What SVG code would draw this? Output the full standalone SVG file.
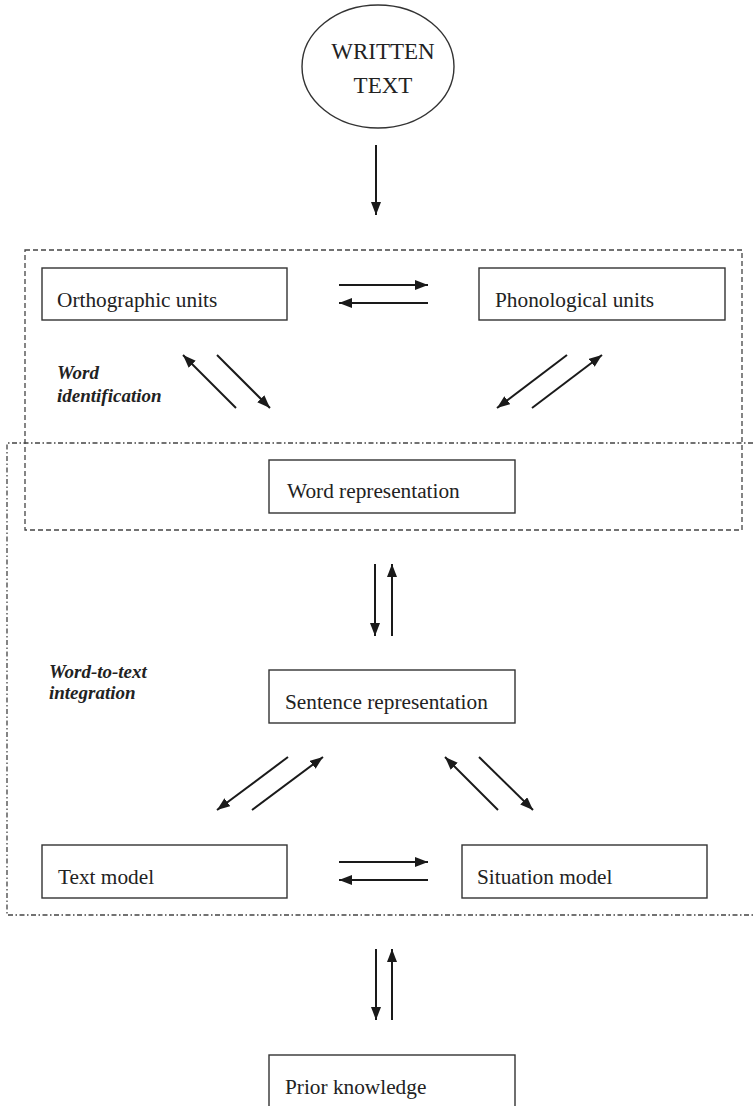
<svg xmlns="http://www.w3.org/2000/svg" width="753" height="1106" viewBox="0 0 753 1106">
  <style>
    .box { fill: #fff; stroke: #333; stroke-width: 1.4; }
    .lbl { font-family: "Liberation Serif", "Times New Roman", serif; font-size: 21.3px; fill: #222; }
    .big { font-family: "Liberation Serif", "Times New Roman", serif; font-size: 23px; fill: #222; text-anchor: middle; }
    .stage { font-family: "Liberation Serif", "Times New Roman", serif; font-size: 19px; font-weight: bold; font-style: italic; fill: #222; }
    .dash { fill: none; stroke: #444; stroke-width: 1.3; stroke-dasharray: 5 3; }
    .dashdot { fill: none; stroke: #444; stroke-width: 1.3; stroke-dasharray: 5 2.5 1.5 2.5; }
    .link { fill: none; stroke: #1a1a1a; stroke-width: 2; marker-end: url(#head); }
  </style>
  <defs>
    <marker id="head" viewBox="0 0 13 10" refX="13" refY="5" markerWidth="13" markerHeight="10" markerUnits="userSpaceOnUse" orient="auto">
      <path d="M0,0 L13,5 L0,10 Z" fill="#1a1a1a"/>
    </marker>
  </defs>

  <!-- stage frames -->
  <g id="frames">
    <rect id="frame-word-identification" class="dash" x="25" y="250" width="717" height="280"/>
    <path id="frame-word-to-text" class="dashdot" d="M753,443 H7 V915 H753"/>
  </g>

  <!-- stage labels -->
  <g id="stage-labels">
    <text class="stage" x="57" y="379">Word</text>
    <text class="stage" x="57" y="402">identification</text>
    <text class="stage" x="49" y="678">Word-to-text</text>
    <text class="stage" x="49" y="699">integration</text>
  </g>

  <!-- nodes -->
  <g id="written-text">
    <ellipse class="box" cx="378" cy="66.5" rx="76" ry="61.5"/>
    <text class="big" x="383" y="59">WRITTEN</text>
    <text class="big" x="383" y="93">TEXT</text>
  </g>
  <g id="orthographic-units">
    <rect class="box" x="42" y="268" width="245" height="52"/>
    <text class="lbl" x="57" y="307">Orthographic units</text>
  </g>
  <g id="phonological-units">
    <rect class="box" x="479" y="268" width="246" height="52"/>
    <text class="lbl" x="495" y="307">Phonological units</text>
  </g>
  <g id="word-representation">
    <rect class="box" x="269" y="460" width="246" height="53"/>
    <text class="lbl" x="287" y="498">Word representation</text>
  </g>
  <g id="sentence-representation">
    <rect class="box" x="269" y="670" width="246" height="53"/>
    <text class="lbl" x="285" y="709">Sentence representation</text>
  </g>
  <g id="text-model">
    <rect class="box" x="42" y="845" width="245" height="53"/>
    <text class="lbl" x="58" y="884">Text model</text>
  </g>
  <g id="situation-model">
    <rect class="box" x="462" y="845" width="245" height="53"/>
    <text class="lbl" x="477" y="884">Situation model</text>
  </g>
  <g id="prior-knowledge">
    <rect class="box" x="269" y="1055" width="246" height="53"/>
    <text class="lbl" x="285" y="1094">Prior knowledge</text>
  </g>

  <!-- connectors -->
  <g id="connectors">
    <path class="link" d="M376,145 V215"/>
    <path class="link" d="M339,285 H428"/>
    <path class="link" d="M428,303 H339"/>
    <path class="link" d="M236,408 L183,355"/>
    <path class="link" d="M217,355 L270,408"/>
    <path class="link" d="M567,355 L497,408"/>
    <path class="link" d="M532,408 L602,355"/>
    <path class="link" d="M375,564 V636"/>
    <path class="link" d="M392,636 V564"/>
    <path class="link" d="M288,757 L217,810"/>
    <path class="link" d="M252,810 L323,757"/>
    <path class="link" d="M498,810 L445,757"/>
    <path class="link" d="M479,757 L533,810"/>
    <path class="link" d="M339,862 H428"/>
    <path class="link" d="M428,880 H339"/>
    <path class="link" d="M376,949 V1020"/>
    <path class="link" d="M392,1020 V949"/>
  </g>
</svg>
